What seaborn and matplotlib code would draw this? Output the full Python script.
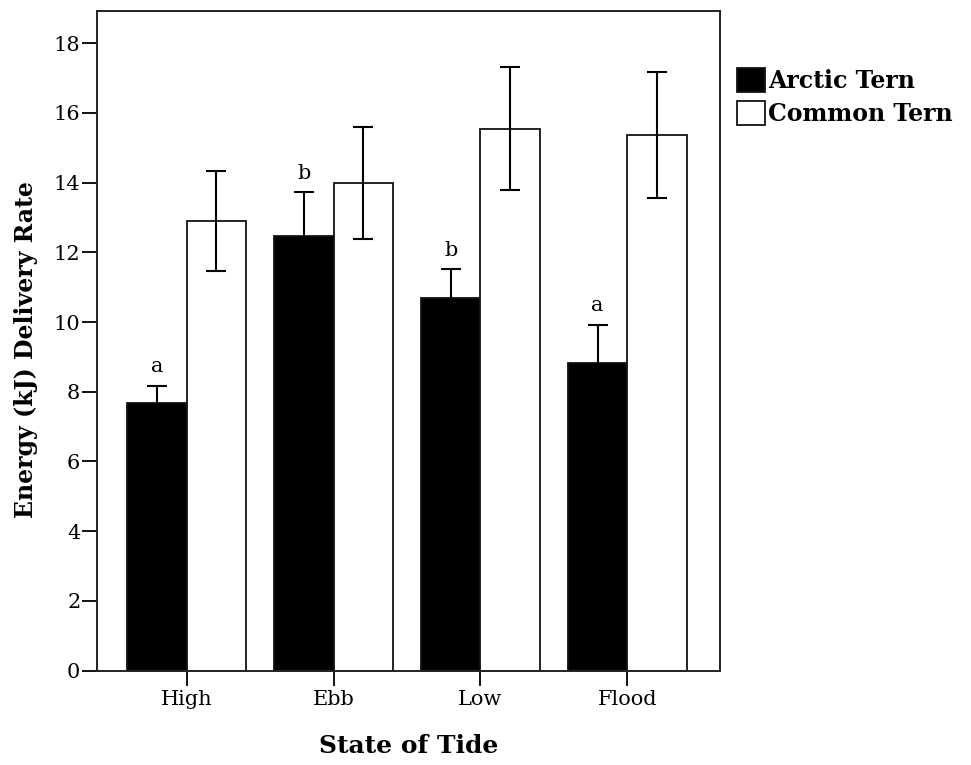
import matplotlib
matplotlib.use("Agg")
import matplotlib.pyplot as plt
import seaborn as sns
import pandas as pd
import numpy as np

tides = ["High", "Ebb", "Low", "Flood"]
species = ["Arctic Tern", "Common Tern"]
arctic_mean = [7.67, 12.47, 10.68, 8.82]
arctic_err = [0.49, 1.25, 0.83, 1.09]
common_mean = [12.90, 13.99, 15.55, 15.36]
common_err = [1.43, 1.60, 1.77, 1.81]
letters = ["a", "b", "b", "a"]

df = pd.DataFrame({
    "tide": tides * 2,
    "species": [species[0]] * 4 + [species[1]] * 4,
    "value": arctic_mean + common_mean,
    "err": arctic_err + common_err,
})

sns.set_style("white")
plt.rcParams["font.family"] = ["DejaVu Serif"]
plt.rcParams["text.color"] = "black"

fig = plt.figure(figsize=(9.71, 7.65), dpi=100)
ax = fig.add_axes([0.0999, 0.1233, 0.6416, 0.8623])

sns.barplot(data=df, x="tide", y="value", hue="species", order=tides,
            hue_order=species, palette=["black", "white"], errorbar=None,
            edgecolor="#111111", linewidth=1.3, width=0.81, ax=ax)

# error bars, placed from the bars seaborn drew
for container, sp in zip(ax.containers, species):
    sub = df[df.species == sp].set_index("tide").loc[tides]
    xs = [b.get_x() + b.get_width() / 2 for b in container]
    ax.errorbar(xs, sub["value"], yerr=sub["err"], fmt="none",
                ecolor="black", elinewidth=1.5, capsize=7, capthick=1.5,
                zorder=5)
    if sp == species[0]:
        for x, v, e, l in zip(xs, sub["value"], sub["err"], letters):
            ax.annotate(l, (x, v + e), xytext=(0, 7), textcoords="offset points",
                        ha="center", va="bottom", fontsize=15, color="black",
                        family="DejaVu Serif")

ax.set_xlim(-0.61, 3.63)
ax.set_ylim(0, 18.92)
ax.set_yticks(np.arange(0, 19, 2))
ax.tick_params(axis="both", direction="out", length=11, width=1.4,
               color="#111111", labelcolor="black", labelsize=15,
               left=True, bottom=True)
ax.tick_params(axis="y", pad=1)
ax.tick_params(axis="x", pad=3)
for s in ax.spines.values():
    s.set_color("#222222")
    s.set_linewidth(1.4)

ax.set_xlabel("State of Tide", fontsize=18, fontweight="bold", color="black",
              family="DejaVu Serif", labelpad=18)
ax.set_ylabel("Energy (kJ) Delivery Rate", fontsize=17, fontweight="bold",
              color="black", family="DejaVu Serif", labelpad=13)
ax.yaxis.set_label_coords(-0.095, 0.487)

leg = ax.legend(loc="upper left", bbox_to_anchor=(1.027, 0.913), frameon=False,
                prop={"family": "DejaVu Serif", "weight": "bold", "size": 17},
                handlelength=1.19, handleheight=1.19, handletextpad=0.15,
                labelspacing=0.32, borderaxespad=0, borderpad=0)
for t in leg.get_texts():
    t.set_color("black")

fig.savefig("out.png", dpi=100)
